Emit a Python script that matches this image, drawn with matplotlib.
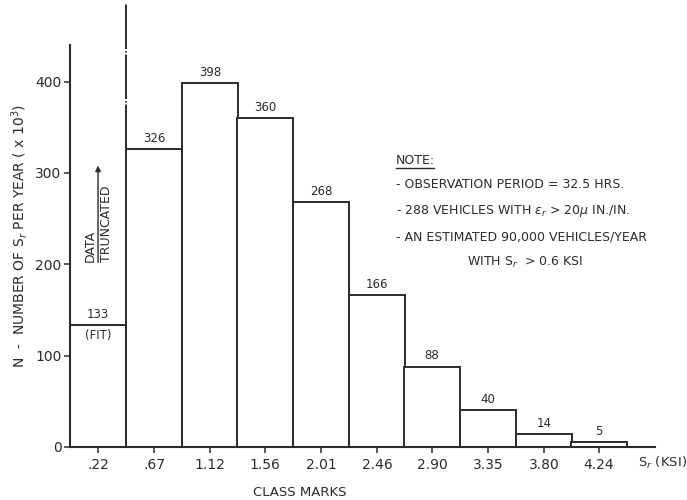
import matplotlib
matplotlib.use("Agg")
import matplotlib.pyplot as plt

# ---- data ----
class_marks = [0.22, 0.67, 1.12, 1.56, 2.01, 2.46, 2.90, 3.35, 3.80, 4.24]
tick_labels = [".22", ".67", "1.12", "1.56", "2.01", "2.46", "2.90", "3.35", "3.80", "4.24"]
counts = [133, 326, 398, 360, 268, 166, 88, 40, 14, 5]
bin_width = 0.447
y_ticks = [0, 100, 200, 300, 400]

note_lines = [
    "- OBSERVATION PERIOD = 32.5 HRS.",
    "- 288 VEHICLES WITH $\\epsilon_r$ > 20$\\mu$ IN./IN.",
    "- AN ESTIMATED 90,000 VEHICLES/YEAR",
]
note_last = "WITH S$_r$  > 0.6 KSI"

ink = "#2b2b2b"
plt.rcParams['font.family'] = ['DejaVu Sans']
plt.rcParams['mathtext.fontset'] = 'dejavusans'
plt.rcParams['lines.scale_dashes'] = False

fig = plt.figure(figsize=(6.87, 5.0), dpi=100)
ax = fig.add_axes([70/687, 1-447/500, 585/687, 402/500])

ax.bar(class_marks, counts, width=bin_width, facecolor="white",
       edgecolor=ink, linewidth=1.4, zorder=2)

ax.set_xlim(-0.005, 4.69)
ax.set_ylim(0, 440)

for s in ["top", "right"]:
    ax.spines[s].set_visible(False)
for s in ["left", "bottom"]:
    ax.spines[s].set_color(ink)
    ax.spines[s].set_linewidth(1.5)

ax.set_xticks(class_marks)
ax.set_xticklabels(tick_labels)
ax.set_yticks(y_ticks)
ax.tick_params(axis="both", direction="out", length=4, width=1.1, color=ink,
               labelcolor=ink, labelsize=10)
ax.tick_params(axis="x", pad=4)
ax.tick_params(axis="y", pad=2)

# value labels
for i, (x, c) in enumerate(zip(class_marks, counts)):
    ax.text(x, c + 5, str(c), ha="center", va="bottom", fontsize=8.5, color=ink)
ax.text(class_marks[0], counts[0] - 4, "(FIT)", ha="center", va="top",
        fontsize=8.5, color=ink)

# data-truncated dash-dot line above the second bar's left edge
edge = (class_marks[0] + class_marks[1]) / 2
ax.plot([edge, edge], [counts[1], 486], color=ink, lw=1.4, clip_on=False,
        linestyle=(0, (32, 1.5, 1, 1.5)), zorder=3)

# DATA TRUNCATED arrow + text
ax.annotate("", xy=(0.22, 308), xytext=(0.22, 202),
            arrowprops=dict(arrowstyle="-|>", color=ink, lw=1.0,
                            mutation_scale=8, shrinkA=0, shrinkB=0))
ax.text(0.155, 220, "DATA", rotation=90, ha="center", va="center",
        fontsize=9, color=ink)
ax.text(0.29, 244, "TRUNCATED", rotation=90, ha="center", va="center",
        fontsize=9, color=ink)

# note block
tx = (396 - 70) / 585
ax.text(tx, (447 - 160) / 402, "NOTE:", transform=ax.transAxes, ha="left",
        va="center", fontsize=9, color=ink)
ax.plot([tx, tx + 0.065], [(447 - 168) / 402] * 2, transform=ax.transAxes,
        color=ink, lw=1.0)
ys = [185, 211, 237]
for yy, line in zip(ys, note_lines):
    ax.text(tx, (447 - yy) / 402, line, transform=ax.transAxes, ha="left",
            va="center", fontsize=9, color=ink)
ax.text((467 - 70) / 585, (447 - 262) / 402, note_last, transform=ax.transAxes,
        ha="left", va="center", fontsize=9, color=ink)

# axis labels
ax.text((638 - 70) / 585, (447 - 463) / 402, "S$_r$ (KSI)", transform=ax.transAxes,
        ha="left", va="center", fontsize=9.5, color=ink)
ax.set_xlabel("CLASS MARKS", fontsize=9.5, color=ink)
ax.xaxis.set_label_coords((300 - 70) / 585, (447 - 492) / 402)
ax.set_ylabel("N  -  NUMBER OF S$_r$ PER YEAR ( x 10$^3$)", fontsize=10, color=ink)
ax.yaxis.set_label_coords((20 - 70) / 585, (447 - 236) / 402)
ax.xaxis.label.set_va("center")
ax.yaxis.label.set_va("center")

fig.savefig("out.png", dpi=100, facecolor="white")
